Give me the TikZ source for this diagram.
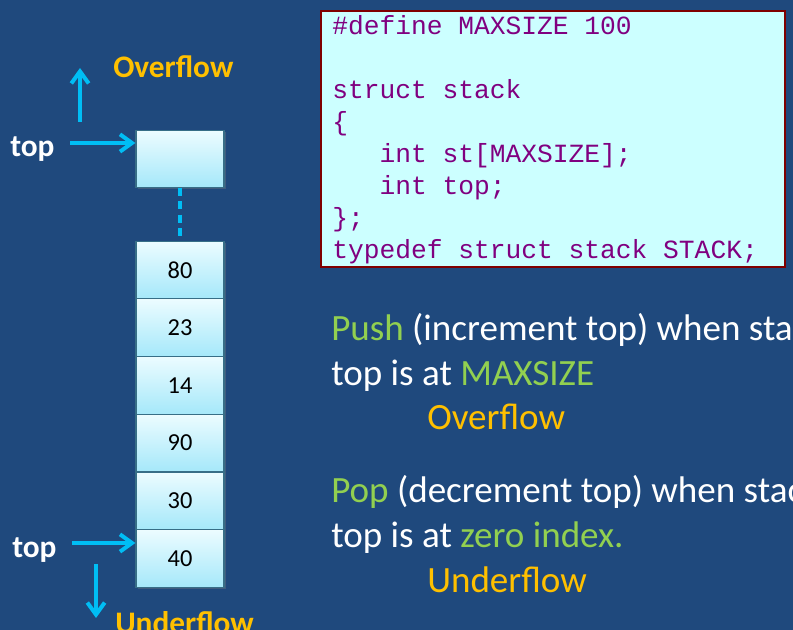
\documentclass[tikz,border=0pt]{standalone}
\usepackage{fontspec}
\setmainfont{Carlito}
\newfontfamily\codefont{Liberation Mono}
\usetikzlibrary{arrows.meta,shadows}
\definecolor{slide}{RGB}{31,73,125}
\definecolor{ptrcol}{RGB}{0,190,245}
\definecolor{celltop}{RGB}{236,252,255}
\definecolor{cellbot}{RGB}{165,232,250}
\definecolor{cellline}{RGB}{55,110,135}
\definecolor{codebg}{RGB}{204,255,255}
\definecolor{codeline}{RGB}{128,0,0}
\definecolor{codetext}{RGB}{128,0,128}
\definecolor{grn}{RGB}{146,208,80}
\definecolor{org}{RGB}{255,192,0}
\begin{document}
\begin{tikzpicture}[x=0.75pt,y=-0.75pt,
  cell/.style={draw=cellline, line width=0.9pt, top color=celltop, bottom color=cellbot,
    minimum width=66pt, minimum height=43.3pt, inner sep=0pt,
    font=\fontsize{18.3}{22}\selectfont,
    drop shadow={shadow xshift=1.2pt, shadow yshift=-1.2pt, opacity=0.35}},
  ptr/.style={line width=3pt, ptrcol, -{Straight Barb[length=9pt,width=13pt]}},
  dashline/.style={line width=3pt, ptrcol, dash pattern=on 6pt off 4pt},
  lbl/.style={anchor=base west, inner sep=0pt, font=\fontsize{23.5}{28}\selectfont\bfseries},
  body/.style={anchor=base west, inner sep=0pt, white, font=\fontsize{27.8}{33}\selectfont},
  code/.style={anchor=base west, inner sep=0pt, codetext, font=\fontsize{19.7}{24}\codefont}]
\useasboundingbox (0,0) rectangle (793,630);
\clip (0,0) rectangle (793,630);
\fill[slide] (0,0) rectangle (793,630);

% stack cells
\node[cell, minimum height=42.5pt] (cfree) at (180,159) {};
\foreach \v [count=\i] in {80,23,14,90,30,40}
  \node[cell] (c\i) at (180,{270+57.7*(\i-1)}) {\v};
\draw[dashline] (cfree.south) -- (c1.north);

% top pointers
\node[lbl, white] (topA) at (10,157) {top};
\coordinate (ptrA) at (70,143);
\draw[ptr] (ptrA) -- (ptrA -| cfree.west);
\coordinate (upA) at (80,122);
\coordinate (upB) at (80,68);
\draw[ptr] (upA) -- (upB);
\node[lbl, org] (overA) at (113,78) {Overflow};

\node[lbl, white] (topB) at (12,558) {top};
\coordinate (ptrB) at (72,543);
\draw[ptr] (ptrB) -- (ptrB -| c6.west);
\coordinate (dnA) at (96,564);
\coordinate (dnB) at (96,618);
\draw[ptr] (dnA) -- (dnB);
\node[lbl, org] (underA) at (115,634) {Underflow};

% code box
\filldraw[fill=codebg, draw=codeline, line width=1.6pt] (321,11) rectangle (785,267);
\foreach \ln/\txt in {0/\#define MAXSIZE 100, 2/struct stack, 3/\{,
    4/~~~int st[MAXSIZE];, 5/~~~int top;, 6/\};, 7/typedef struct stack STACK;}
  \node[code] (code\ln) at (332,{35+31.9*\ln}) {\txt};

% explanation
\node[body] (push1) at (331,341) {\textcolor{grn}{Push} (increment top) when stack};
\node[body] (push2) at (331,386) {top is at \textcolor{grn}{MAXSIZE}};
\node[body, org] (over) at (427,430) {Overflow};
\node[body] (pop1) at (331,503) {\textcolor{grn}{Pop} (decrement top) when stack};
\node[body] (pop2) at (331,548) {top is at \textcolor{grn}{zero index.}};
\node[body, org] (under) at (427,593) {Underflow};
\end{tikzpicture}
\end{document}
